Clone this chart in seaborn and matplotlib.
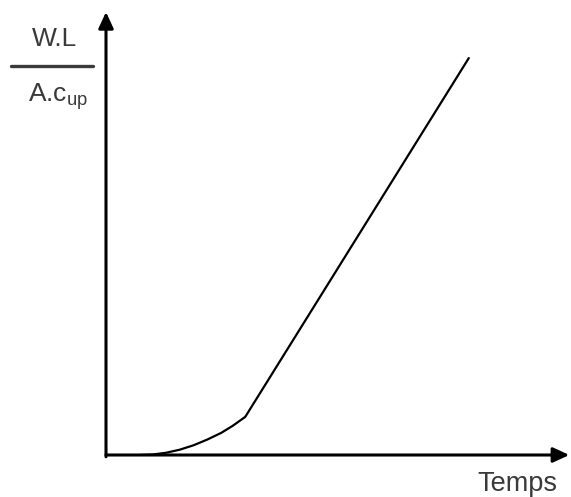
import matplotlib
matplotlib.use("Agg")
import matplotlib.pyplot as plt
import seaborn as sns
import pandas as pd

# --- data (arbitrary units) ---
temps = [0.74, 1.0, 1.3, 1.6, 1.9, 2.2, 2.5, 2.75, 3.02, 7.87]
wl_ratio = [0.0, 0.01, 0.05, 0.12, 0.22, 0.35, 0.50, 0.66, 0.86, 8.96]

df = pd.DataFrame({"temps": temps, "wl": wl_ratio})

sns.set_style("white")
plt.rcParams["font.family"] = ["Liberation Sans", "DejaVu Sans"]
plt.rcParams["mathtext.fontset"] = "custom"
plt.rcParams["mathtext.rm"] = "Liberation Sans"

fig = plt.figure(figsize=(5.71, 4.97), dpi=100)
ax = fig.add_axes([106 / 571, 42 / 497, 461 / 571, 443 / 497])

sns.lineplot(data=df, x="temps", y="wl", sort=False, color="black",
             linewidth=1.6, ax=ax)

ax.set_xlim(0, 10)
ax.set_ylim(0, 10)
ax.set_xticks([])
ax.set_yticks([])
ax.set_xlabel("")
ax.set_ylabel("")
for s in ax.spines.values():
    s.set_visible(False)

# axes with arrow heads
arrow = dict(arrowstyle="-|>,head_length=0.65,head_width=0.3", color="black",
             lw=2.2, shrinkA=0, shrinkB=0, mutation_scale=15)
ax.annotate("", xy=(1.005, 0), xytext=(0, 0), xycoords="axes fraction",
            textcoords="axes fraction", arrowprops=arrow)
ax.annotate("", xy=(0, 1), xytext=(0, -0.004), xycoords="axes fraction",
            textcoords="axes fraction", arrowprops=arrow)

# y label as a fraction
txt = "#3a3a3a"
fig.text(55 / 571, 1 - 39 / 497, "W.L", ha="center", va="center",
         fontsize=19, color=txt)
fig.add_artist(plt.Line2D([11 / 571, 93 / 571], [1 - 66 / 497, 1 - 66 / 497],
                          color=txt, lw=2.4))
fig.text(28 / 571, 1 - 101 / 497, r"A.c$_\mathregular{up}$", ha="left",
         va="baseline", fontsize=19, color=txt)

# x label
fig.text(477 / 571, 1 - 491 / 497, "Temps", ha="left", va="baseline",
         fontsize=19.5, color=txt)

fig.savefig("out.png", dpi=100)
